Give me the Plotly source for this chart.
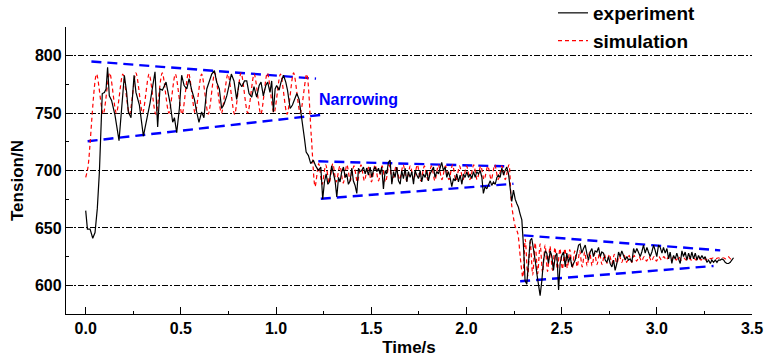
import plotly.graph_objects as go

# ---- measured tension (experiment) ----
exp_t = [
    0.000, 0.009, 0.023, 0.037, 0.049, 0.061, 0.072, 0.080, 0.087, 0.098,
    0.107, 0.115, 0.124, 0.136, 0.154, 0.175, 0.189, 0.203, 0.215, 0.224,
    0.238, 0.254, 0.264, 0.282, 0.303, 0.320, 0.338, 0.364, 0.378, 0.390,
    0.403, 0.422, 0.434, 0.443, 0.457, 0.466, 0.478, 0.492, 0.504, 0.517,
    0.531, 0.543, 0.557, 0.571, 0.583, 0.595, 0.609, 0.621, 0.636, 0.648,
    0.662, 0.676, 0.688, 0.702, 0.714, 0.727, 0.741, 0.753, 0.765, 0.779,
    0.793, 0.806, 0.820, 0.834, 0.846, 0.858, 0.872, 0.884, 0.898, 0.911,
    0.921, 0.933, 0.946, 0.956, 0.968, 0.977, 0.986, 0.995, 1.003, 1.016,
    1.026, 1.039, 1.051, 1.060, 1.074, 1.086, 1.100, 1.109, 1.121, 1.131,
    1.140, 1.149, 1.158, 1.170, 1.182, 1.196, 1.208,
    1.222, 1.235, 1.245, 1.254, 1.263, 1.272, 1.280, 1.292, 1.301, 1.310,
    1.319, 1.328, 1.336, 1.345, 1.354, 1.363, 1.371, 1.380, 1.389, 1.398,
    1.406, 1.415, 1.424, 1.433, 1.441, 1.450, 1.459, 1.468, 1.476, 1.485,
    1.494, 1.503, 1.511, 1.520, 1.529, 1.538, 1.546, 1.555, 1.564, 1.573,
    1.581, 1.590, 1.599, 1.608, 1.617, 1.625, 1.634, 1.643, 1.652, 1.660,
    1.669, 1.678, 1.687, 1.695, 1.704, 1.713, 1.722, 1.730, 1.739, 1.748,
    1.757, 1.765, 1.774, 1.783, 1.792, 1.800, 1.809, 1.818, 1.827, 1.835,
    1.844, 1.853, 1.862, 1.870, 1.879, 1.888, 1.897, 1.905, 1.914, 1.923,
    1.932, 1.941, 1.949, 1.958, 1.967, 1.976, 1.984, 1.993, 2.002, 2.011,
    2.019, 2.028, 2.037, 2.046, 2.054, 2.063, 2.072, 2.081, 2.089, 2.098,
    2.107, 2.116, 2.125, 2.133, 2.142, 2.151, 2.160, 2.168, 2.177, 2.186,
    2.195, 2.203, 2.212, 2.221, 2.230, 2.238, 2.247, 2.256, 2.265, 2.273,
    2.282, 2.291, 2.300, 2.308, 2.317, 2.326, 2.335, 2.343, 2.352, 2.361,
    2.370, 2.379, 2.387, 2.396, 2.405, 2.414, 2.422, 2.431, 2.440, 2.449,
    2.457, 2.466, 2.475, 2.484, 2.492, 2.501, 2.510, 2.519, 2.527, 2.536,
    2.545, 2.554, 2.562, 2.571, 2.580, 2.589, 2.597, 2.606, 2.615, 2.624,
    2.632, 2.641, 2.650, 2.659, 2.667, 2.676, 2.685, 2.694, 2.703, 2.711,
    2.720, 2.729, 2.738, 2.746, 2.755, 2.764, 2.773, 2.781, 2.790, 2.799,
    2.808, 2.816, 2.825, 2.834, 2.843, 2.851, 2.860, 2.869, 2.878, 2.886,
    2.895, 2.904, 2.913, 2.921, 2.930, 2.939, 2.948, 2.956, 2.965, 2.974,
    2.983, 2.992, 3.000, 3.009, 3.018, 3.027, 3.035, 3.044, 3.053, 3.062,
    3.070, 3.079, 3.088, 3.097, 3.105, 3.114, 3.123, 3.132, 3.140, 3.149,
    3.158, 3.167, 3.176, 3.184, 3.193, 3.202, 3.211, 3.219, 3.228, 3.237,
    3.246, 3.254, 3.263, 3.272, 3.281, 3.289, 3.298, 3.307, 3.316, 3.324,
    3.333, 3.342, 3.351, 3.359, 3.368, 3.377, 3.386, 3.394, 3.403,
]
exp_v = [
    665, 649, 649, 641, 646, 667, 699, 728, 767, 768,
    771, 790, 765, 761, 748, 726, 751, 783, 768, 751,
    746, 783, 768, 757, 730, 745, 759, 786, 738, 771,
    770, 777, 768, 759, 742, 746, 733, 754, 783, 774,
    771, 780, 770, 762, 751, 742, 751, 746, 771, 778,
    784, 787, 777, 771, 754, 758, 765, 774, 784, 778,
    762, 777, 773, 778, 778, 767, 764, 773, 764, 774,
    777, 765, 774, 777, 768, 778, 751, 771, 774, 770,
    777, 783, 777, 770, 754, 757, 764, 767, 762, 751,
    742, 728, 716, 713, 706, 709, 704,
    700, 703, 675, 690, 697, 688, 690, 704, 697, 691,
    677, 694, 690, 699, 703, 694, 697, 688, 691, 702,
    691, 687, 680, 702, 699, 700, 703, 697, 702, 696,
    703, 694, 700, 703, 699, 702, 697, 703, 684, 700,
    697, 707, 709, 688, 699, 694, 703, 691, 688, 700,
    693, 702, 690, 699, 694, 699, 688, 700, 696, 693,
    700, 690, 697, 694, 700, 691, 697, 700, 703, 694,
    699, 697, 702, 707, 700, 703, 694, 699, 694, 686,
    693, 691, 697, 690, 696, 688, 697, 694, 699, 694,
    697, 693, 699, 694, 699, 697, 700, 694, 680, 686,
    684, 688, 691, 687, 690, 688, 694, 696, 694, 702,
    696, 700, 703, 697, 684, 673, 683, 675, 671, 668,
    662, 657, 633, 604, 601, 622, 639, 641, 633, 622,
    610, 599, 591, 604, 622, 630, 628, 619, 630, 625,
    613, 625, 628, 596, 619, 626, 629, 616, 628, 620,
    625, 616, 619, 622, 628, 635, 636, 628, 632, 635,
    628, 622, 629, 632, 625, 630, 629, 633, 625, 629,
    628, 622, 620, 625, 619, 616, 622, 613, 619, 629,
    625, 630, 626, 622, 625, 622, 623, 620, 632, 628,
    632, 628, 625, 629, 635, 628, 633, 629, 625, 629,
    635, 630, 625, 635, 633, 628, 633, 628, 632, 623,
    629, 619, 626, 623, 628, 623, 619, 630, 625, 629,
    622, 628, 623, 629, 623, 628, 622, 626, 623, 626,
    623, 625, 620, 622, 619, 622, 620, 622, 620, 622,
    622, 623, 622, 620, 619, 619, 620, 622, 624,
]

# ---- simulated tension: turning points of the oscillation ----
sim_t = [
    0.000, 0.012, 0.057, 0.092, 0.126, 0.161, 0.195, 0.230, 0.264, 0.299,
    0.333, 0.368, 0.402, 0.437, 0.471, 0.506, 0.540, 0.575, 0.609, 0.644,
    0.678, 0.713, 0.747, 0.782, 0.816, 0.851, 0.885, 0.920, 0.954, 0.989,
    1.023, 1.058, 1.092, 1.127, 1.161, 1.185,
    1.205, 1.224, 1.242, 1.261, 1.279, 1.298, 1.316, 1.335, 1.353, 1.372,
    1.390, 1.409, 1.427, 1.446, 1.464, 1.483, 1.501, 1.520, 1.538, 1.557,
    1.575, 1.594, 1.612, 1.631, 1.649, 1.668, 1.686, 1.705, 1.723, 1.742,
    1.760, 1.779, 1.797, 1.816, 1.834, 1.853, 1.871, 1.890, 1.908, 1.927,
    1.945, 1.964, 1.982, 2.001, 2.019, 2.038, 2.056, 2.075, 2.093, 2.112,
    2.130, 2.149, 2.167, 2.186, 2.204, 2.223,
    2.236, 2.255, 2.270, 2.283,
    2.296, 2.309, 2.322, 2.335, 2.348, 2.361, 2.374, 2.387, 2.400, 2.413,
    2.426, 2.439, 2.452, 2.465, 2.478, 2.491, 2.504, 2.517, 2.530, 2.543,
    2.556, 2.569, 2.582, 2.595, 2.608, 2.621, 2.634, 2.647, 2.660, 2.673,
    2.686, 2.699, 2.712, 2.725, 2.738, 2.751, 2.764, 2.777, 2.790, 2.803,
    2.816, 2.829, 2.842, 2.855, 2.868, 2.881, 2.894, 2.907, 2.920, 2.933,
    2.946, 2.959, 2.972, 2.985, 2.998, 3.011, 3.024, 3.037, 3.050, 3.063,
    3.076, 3.089, 3.102, 3.115, 3.128, 3.141, 3.154, 3.167, 3.180, 3.193,
    3.206, 3.219, 3.232, 3.245, 3.258, 3.271, 3.284, 3.297, 3.310, 3.323,
    3.336, 3.349, 3.362, 3.375, 3.388, 3.401,
]
sim_v = [
    694, 703, 784, 749, 785, 750, 784, 749, 785, 750,
    784, 749, 785, 750, 784, 749, 785, 750, 784, 749,
    785, 750, 784, 749, 785, 750, 784, 749, 785, 750,
    784, 749, 785, 750, 784, 730,
    686, 706, 688, 705, 689, 706, 690, 704, 689, 705,
    691, 704, 690, 705, 691, 704, 690, 705, 691, 704,
    690, 705, 691, 704, 692, 705, 691, 704, 692, 705,
    691, 704, 692, 704, 691, 705, 692, 704, 692, 705,
    691, 704, 692, 704, 692, 705, 692, 704, 692, 704,
    692, 705, 692, 704, 692, 705,
    672, 652, 645, 624,
    607, 640, 608, 638, 609, 637, 610, 636, 611, 635,
    612, 634, 613, 633, 614, 632, 614, 632, 615, 631,
    615, 630, 616, 630, 616, 629, 617, 629, 617, 628,
    618, 628, 618, 627, 619, 627, 619, 627, 619, 626,
    620, 626, 620, 626, 620, 626, 621, 625, 621, 625,
    621, 625, 621, 625, 621, 625, 622, 625, 622, 625,
    622, 625, 622, 625, 622, 624, 622, 624, 622, 624,
    622, 624, 622, 624, 622, 624, 623, 624, 623, 624,
    623, 624, 623, 625, 623, 625,
]

# ---- envelope guide lines (start/end of each stage) ----
env_upper_t = [[0.03, 1.21], [1.222, 2.230], [2.300, 3.333]]
env_upper_v = [[795, 780], [708, 703.5], [643.5, 630.4]]
env_lower_t = [[0.01, 1.24], [1.235, 2.247], [2.282, 3.298]]
env_lower_v = [[725.5, 748.5], [675.4, 688.4], [603.5, 616.8]]

x_ticks = [0.0, 0.5, 1.0, 1.5, 2.0, 2.5, 3.0, 3.5]
x_ticktext = ["0.0", "0.5", "1.0", "1.5", "2.0", "2.5", "3.0", "3.5"]
y_ticks = [600, 650, 700, 750, 800]

FONT = "Liberation Sans, Arial, sans-serif"

# plot-area geometry in pixels
W, H = 767, 360
ML, MR, MT, MB = 66, 15, 27, 46
PW, PH = W - ML - MR, H - MT - MB

fig = go.Figure()

env_t, env_v = [], []
for ts, vs in zip(env_upper_t + env_lower_t, env_upper_v + env_lower_v):
    env_t += ts + [None]
    env_v += vs + [None]
fig.add_trace(go.Scatter(
    x=env_t, y=env_v, mode="lines", showlegend=False, hoverinfo="skip",
    line=dict(color="#0000ff", width=2.4, dash="10px,6px"),
))

fig.add_trace(go.Scatter(
    x=sim_t, y=sim_v, mode="lines", name="simulation", legendrank=2,
    line=dict(color="#ff0000", width=1.2, dash="4px,3px", shape="spline", smoothing=0.8),
))
fig.add_trace(go.Scatter(
    x=exp_t, y=exp_v, mode="lines", name="experiment", legendrank=1,
    line=dict(color="black", width=1.2),
))

fig.add_annotation(
    x=1.214, y=761.5, xref="x", yref="y", text="Narrowing", showarrow=False,
    xanchor="left", yanchor="middle",
    font=dict(family=FONT, size=16, color="#0000ff", weight="bold"),
)
fig.add_annotation(
    x=(17 - ML) / PW, y=(H - MB - 181) / PH, xref="paper", yref="paper",
    text="Tension/N", showarrow=False, textangle=-90,
    xanchor="center", yanchor="middle",
    font=dict(family=FONT, size=17, color="black", weight="bold"),
)

fig.update_layout(
    width=W, height=H,
    margin=dict(l=ML, r=MR, t=MT, b=MB, autoexpand=False),
    paper_bgcolor="white", plot_bgcolor="white",
    font=dict(family=FONT, color="black"),
    legend=dict(
        x=(553 - ML) / PW, y=(H - MB + 6) / PH, xanchor="left", yanchor="top",
        bgcolor="rgba(0,0,0,0)", borderwidth=0,
        font=dict(family=FONT, size=19, color="black", weight="bold"),
        tracegroupgap=0, itemwidth=30,
    ),
)

fig.update_xaxes(
    range=[-0.1035, 3.5], tickvals=x_ticks, ticktext=x_ticktext,
    ticks="inside", ticklen=7, tickwidth=1.2, tickcolor="black",
    showline=True, linecolor="black", linewidth=1.3,
    showgrid=False, zeroline=False,
    tickfont=dict(family=FONT, size=16, color="black", weight="bold"),
    minor=dict(dtick=0.25, tick0=0, ticks="inside", ticklen=3, tickcolor="black", tickwidth=1.2),
    title=dict(text="Time/s", standoff=4,
               font=dict(family=FONT, size=17, color="black", weight="bold")),
)
fig.update_yaxes(
    range=[575, 825], tickvals=y_ticks,
    ticks="inside", ticklen=7, tickwidth=1.2, tickcolor="black",
    showline=True, linecolor="black", linewidth=1.3,
    showgrid=True, gridcolor="black", gridwidth=1, griddash="6px,2px,2px,2px",
    zeroline=False,
    tickfont=dict(family=FONT, size=16, color="black", weight="bold"),
    minor=dict(dtick=25, tick0=575, ticks="inside", ticklen=3, tickcolor="black",
               tickwidth=1.2, showgrid=False),
)

fig.write_html("out.html")
